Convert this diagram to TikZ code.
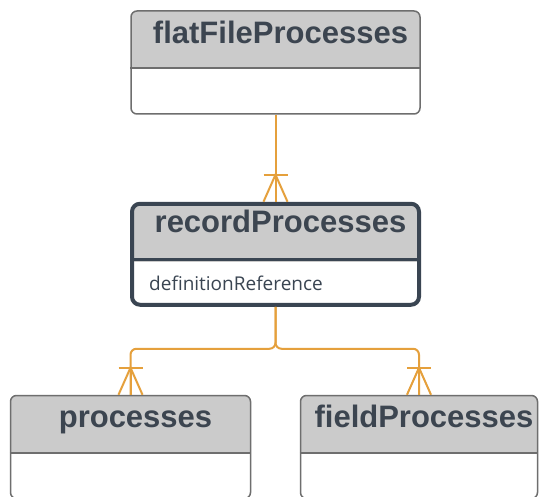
\documentclass[tikz,border=0pt]{standalone}
\usepackage{fontspec}
\setmainfont{Liberation Sans}
\newfontfamily\attrfont{Open Sans}
\usetikzlibrary{positioning}
\definecolor{hdrgray}{HTML}{CBCBCB}
\definecolor{boxgray}{HTML}{6E6E6E}
\definecolor{slate}{HTML}{3A4552}
\definecolor{relorange}{HTML}{E5A03C}
\definecolor{titlecol}{HTML}{3C4550}

\begin{document}
\begin{tikzpicture}[
  x=1pt, y=1pt,
  entity/.style={draw=boxgray, line width=1.5pt, rounded corners=6pt, fill=white,
                 minimum height=103pt, inner sep=0pt,
                 path picture={\fill[hdrgray, sharp corners] (path picture bounding box.north west)
                   rectangle ([yshift=-58pt]path picture bounding box.north east);}},
  keybox/.style={entity, draw=slate, line width=4pt, rounded corners=8pt, minimum height=101pt},
  title/.style={font=\bfseries\fontsize{31}{31}\selectfont, text=titlecol,
                anchor=base, inner sep=0pt},
  attr/.style={font=\attrfont\fontsize{19}{19}\selectfont, text=slate,
               anchor=base west, inner sep=0pt},
  rel/.style={draw=relorange, line width=2pt, rounded corners=6pt},
  crowfoot/.pic={\draw[rel, sharp corners] (-12,0) -- (0,27) -- (12,0);
                 \draw[rel] (0,0) -- (0,27);
                 \draw[rel] (-12,27) -- (12,27);}
]
\useasboundingbox (0,0) rectangle (540,496);
\fill[white] (0,0) rectangle (540,496);

% tables
\node[entity, minimum width=289pt] (flat) at (275.5,433.5) {};
\node[keybox, minimum width=287pt, below=87pt of flat] (rec) {};
\node[entity, minimum width=240pt] (proc) at (130.5,49) {};
\node[entity, minimum width=237pt] (field) at (419,49) {};

% header split lines
\foreach \n in {flat,proc,field}
  \draw[boxgray, line width=1.5pt] ([yshift=-58pt]\n.north west) -- ([yshift=-58pt]\n.north east);
\draw[slate, line width=3pt] ([yshift=-58pt]rec.north west) -- ([yshift=-58pt]rec.north east);

% names
\node[title] (flatname) at ([xshift=5pt,yshift=-33pt]flat.north) {flatFileProcesses};
\node[title] (recname) at ([xshift=5pt,yshift=-31pt]rec.north) {recordProcesses};
\node[title] (procname) at ([xshift=5pt,yshift=-33pt]proc.north) {processes};
\node[title] (fieldname) at ([xshift=5pt,yshift=-33pt]field.north) {fieldProcesses};
\node[attr] (recattr) at ([xshift=19pt,yshift=-89pt]rec.north west) {definitionReference};

% relations
\draw[rel] (flat) -- (rec);
\draw[rel] (rec.south) -- ++(0,-42) -| (proc.north);
\draw[rel] (rec.south) -- ++(0,-42) -| (field.north);
\pic at (rec.north) {crowfoot};
\pic at (proc.north) {crowfoot};
\pic at (field.north) {crowfoot};
\end{tikzpicture}
\end{document}
